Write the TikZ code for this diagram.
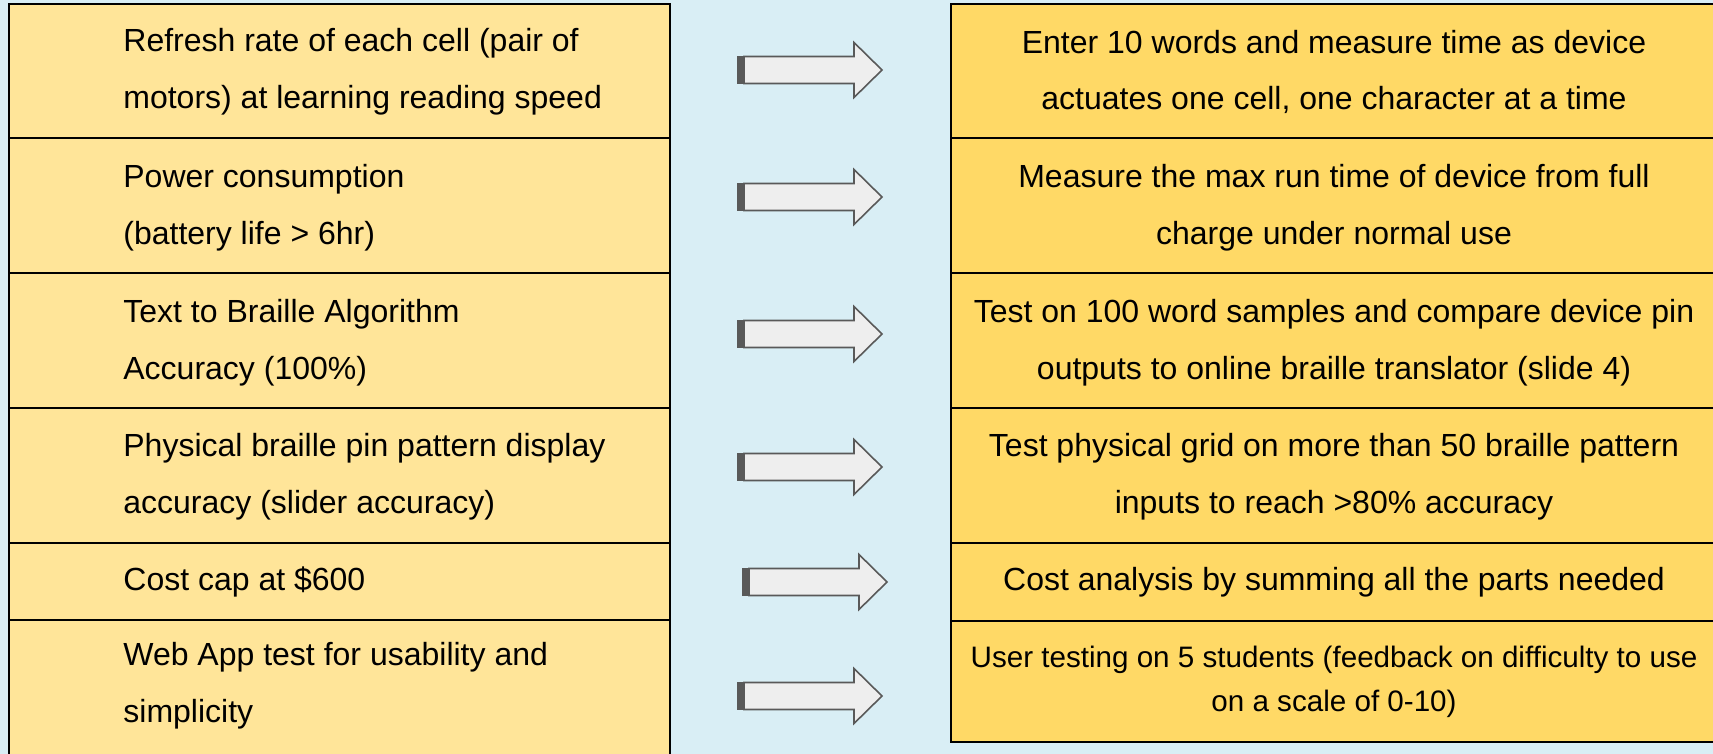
\documentclass[tikz,border=0pt]{standalone}
\usepackage{fontspec}
\setmainfont{Liberation Sans}
\definecolor{panelblue}{HTML}{D9EEF5}
\definecolor{reqyellow}{HTML}{FFE599}
\definecolor{testyellow}{HTML}{FFD966}
\definecolor{arrowgrey}{HTML}{595959}
\definecolor{arrowfill}{HTML}{EEEEEE}
\tikzset{
  testarrow/.pic={
    \filldraw[arrowgrey, line width=0.4pt] (0.5,-13.5) rectangle (5,13.5);
    \draw[arrowgrey, fill=arrowfill, line width=0.8pt]
      (7,-13.5) -- (117,-13.5) -- (117,-27.5) -- (145,0) -- (117,27.5) -- (117,13.5) -- (7,13.5) -- cycle;
  }
}
\begin{document}
\begin{tikzpicture}[x=0.5pt, y=-0.5pt,
    reqcell/.style={draw=black, line width=1pt, fill=reqyellow, anchor=north west,
      minimum width=330.5pt, inner sep=0pt},
    testcell/.style={draw=black, line width=1pt, fill=testyellow, anchor=north west,
      minimum width=383pt, inner sep=0pt},
    reqtext/.style={anchor=west, align=left, inner sep=0pt,
      font=\fontsize{16}{28.3}\selectfont},
    testtext/.style={align=center, inner sep=0pt,
      font=\fontsize{16}{28.3}\selectfont}]
  % Background
  \useasboundingbox (0,0) rectangle (1713,754);
  \fill[panelblue] (0,0) rectangle (1713,754);

  % Left-hand column: requirements
  \node[reqcell, minimum height=67pt]   (req1) at (8,3)   {};
  \node[reqcell, minimum height=67.5pt] (req2) at (8,137) {};
  \node[reqcell, minimum height=67.5pt] (req3) at (8,272) {};
  \node[reqcell, minimum height=67.5pt] (req4) at (8,407) {};
  \node[reqcell, minimum height=38.5pt] (req5) at (8,542) {};
  \node[reqcell, minimum height=72pt]   (req6) at (8,619) {};
  \node[reqtext] (reqtxt1) at ([xshift=57.5pt,yshift=-0.5pt]req1.west) {Refresh rate of each cell (pair of\\motors) at learning reading speed};
  \node[reqtext] (reqtxt2) at ([xshift=57.5pt,yshift=-1pt]req2.west) {Power consumption\\(battery life > 6hr)};
  \node[reqtext] (reqtxt3) at ([xshift=57.5pt,yshift=-1pt]req3.west) {Text to Braille Algorithm\\Accuracy (100\%)};
  \node[reqtext] (reqtxt4) at ([xshift=57.5pt,yshift=-0.5pt]req4.west) {Physical braille pin pattern display\\accuracy (slider accuracy)};
  \node[reqtext] (reqtxt5) at ([xshift=57.5pt]req5.west) {Cost cap at \$600};
  \node[reqtext] (reqtxt6) at ([xshift=57.5pt,yshift=3pt]req6.west) {Web App test for usability and\\simplicity};

  % Right-hand column: tests
  \node[testcell, minimum height=67pt]   (test1) at (950,3)   {};
  \node[testcell, minimum height=67.5pt] (test2) at (950,137) {};
  \node[testcell, minimum height=67.5pt] (test3) at (950,272) {};
  \node[testcell, minimum height=67.5pt] (test4) at (950,407) {};
  \node[testcell, minimum height=39pt]   (test5) at (950,542) {};
  \node[testcell, minimum height=60.5pt] (test6) at (950,620) {};
  \node[testtext] (testtxt1) at ([yshift=-0.5pt]test1) {Enter 10 words and measure time as device\\actuates one cell, one character at a time};
  \node[testtext] (testtxt2) at ([yshift=-1pt]test2) {Measure the max run time of device from full\\charge under normal use};
  \node[testtext] (testtxt3) at ([yshift=-1pt]test3) {Test on 100 word samples and compare device pin\\outputs to online braille translator (slide 4)};
  \node[testtext] (testtxt4) at ([yshift=-0.5pt]test4) {Test physical grid on more than 50 braille pattern\\inputs to reach >80\% accuracy};
  \node[testtext] (testtxt5) at (test5) {Cost analysis by summing all the parts needed};
  \node[testtext, font=\fontsize{14.8}{21.9}\selectfont] (testtxt6) at (test6) {User testing on 5 students (feedback on difficulty to use\\on a scale of 0-10)};

  % Arrows
  \pic (arr1) at (737,70)  {testarrow};
  \pic (arr2) at (737,197) {testarrow};
  \pic (arr3) at (737,334) {testarrow};
  \pic (arr4) at (737,467) {testarrow};
  \pic (arr5) at (742,582) {testarrow};
  \pic (arr6) at (737,696) {testarrow};
\end{tikzpicture}
\end{document}
